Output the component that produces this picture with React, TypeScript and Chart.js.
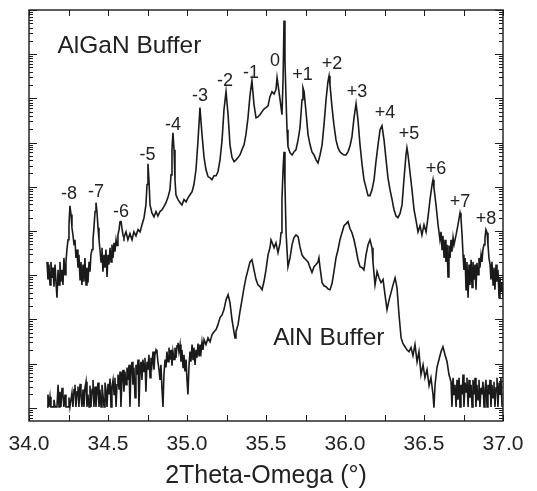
import React, { useEffect, useRef } from "react";
import { Chart, registerables } from "chart.js";

Chart.register(...registerables);

// 2Theta (deg) vs log10(intensity) — AlGaN buffer sample (upper curve)
const alganScan: [number, number][] = [
[34.114,4.30],[34.120,3.90],[34.126,4.24],[34.133,3.78],[34.139,4.30],[34.146,3.94],[34.152,4.17],[34.158,3.74],[34.165,4.24],[34.171,3.83],[34.177,3.49],[34.184,4.12],[34.190,3.78],[34.196,4.30],[34.202,3.85],[34.209,4.12],[34.215,3.78],[34.221,4.39],[34.228,4.01],[34.234,4.30],[34.240,4.58],[34.247,4.80],[34.253,5.14],[34.259,5.57],[34.266,5.37],[34.272,5.07],[34.278,4.91],[34.285,4.69],[34.291,4.80],[34.297,4.39],[34.304,4.58],[34.310,4.17],[34.316,4.46],[34.323,3.90],[34.329,4.30],[34.335,3.78],[34.342,4.24],[34.348,3.85],[34.354,4.39],[34.361,3.78],[34.367,4.17],[34.373,3.83],[34.380,4.30],[34.386,4.08],[34.392,4.46],[34.399,4.58],[34.405,4.80],[34.411,5.07],[34.418,5.44],[34.424,5.64],[34.430,5.44],[34.437,5.07],[34.443,4.80],[34.449,4.58],[34.456,4.30],[34.462,4.62],[34.468,4.08],[34.475,4.46],[34.481,4.17],[34.487,4.58],[34.494,3.96],[34.500,4.46],[34.506,4.24],[34.513,4.62],[34.519,4.30],[34.525,4.69],[34.532,4.39],[34.538,4.73],[34.544,4.53],[34.551,4.80],[34.557,4.67],[34.563,4.91],[34.570,5.03],[34.576,5.21],[34.582,5.23],[34.588,5.07],[34.595,4.91],[34.601,4.85],[34.614,4.98],[34.626,4.80],[34.639,4.94],[34.652,4.80],[34.664,4.98],[34.677,4.89],[34.690,5.03],[34.703,4.98],[34.715,5.14],[34.728,5.30],[34.740,5.59],[34.747,6.05],[34.753,6.52],[34.759,6.16],[34.766,5.59],[34.778,5.41],[34.791,5.32],[34.804,5.44],[34.816,5.34],[34.829,5.44],[34.842,5.48],[34.854,5.55],[34.867,5.64],[34.880,5.77],[34.892,5.93],[34.899,6.27],[34.905,6.84],[34.911,7.22],[34.918,6.84],[34.924,6.16],[34.930,5.82],[34.943,5.71],[34.956,5.64],[34.968,5.59],[34.981,5.71],[34.994,5.66],[35.006,5.75],[35.019,5.82],[35.032,5.89],[35.044,6.05],[35.057,6.39],[35.070,7.06],[35.082,7.79],[35.095,7.18],[35.108,6.66],[35.120,6.39],[35.133,6.23],[35.146,6.20],[35.158,6.16],[35.171,6.25],[35.184,6.25],[35.196,6.34],[35.209,6.61],[35.222,7.06],[35.234,7.74],[35.247,8.15],[35.260,7.63],[35.272,6.95],[35.285,6.66],[35.298,6.57],[35.310,6.61],[35.323,6.66],[35.335,6.72],[35.348,6.84],[35.361,6.95],[35.373,7.18],[35.386,7.56],[35.399,8.08],[35.411,8.40],[35.424,7.86],[35.437,7.56],[35.449,7.58],[35.462,7.63],[35.475,7.70],[35.487,7.76],[35.500,7.79],[35.513,7.83],[35.525,8.04],[35.538,8.15],[35.551,8.10],[35.563,8.20],[35.570,8.47],[35.576,8.31],[35.589,7.97],[35.601,7.63],[35.608,8.42],[35.614,9.76],[35.620,8.87],[35.627,7.97],[35.633,7.29],[35.639,6.91],[35.652,6.77],[35.665,6.72],[35.677,6.79],[35.690,6.84],[35.703,7.06],[35.715,7.33],[35.728,7.97],[35.734,8.24],[35.741,8.15],[35.753,7.70],[35.766,7.18],[35.779,6.95],[35.791,6.79],[35.804,6.72],[35.817,6.61],[35.829,6.54],[35.842,6.72],[35.855,6.95],[35.867,7.40],[35.880,7.97],[35.892,8.38],[35.899,8.51],[35.905,8.31],[35.918,7.79],[35.930,7.40],[35.943,7.06],[35.956,6.88],[35.968,6.79],[35.981,6.75],[35.994,6.72],[36.006,6.72],[36.019,6.79],[36.032,6.93],[36.044,7.13],[36.057,7.56],[36.070,7.88],[36.082,7.52],[36.095,6.95],[36.108,6.50],[36.120,6.16],[36.133,5.98],[36.146,5.80],[36.158,5.80],[36.171,5.93],[36.184,6.16],[36.196,6.57],[36.209,6.95],[36.222,7.29],[36.234,7.38],[36.247,7.06],[36.260,6.61],[36.272,6.20],[36.285,5.93],[36.298,5.71],[36.310,5.48],[36.323,5.34],[36.335,5.30],[36.348,5.39],[36.361,5.59],[36.373,6.16],[36.386,6.72],[36.392,6.88],[36.399,6.72],[36.411,6.34],[36.424,5.93],[36.437,5.48],[36.449,5.25],[36.462,4.98],[36.475,5.12],[36.487,4.91],[36.500,5.14],[36.513,4.98],[36.525,5.30],[36.538,5.71],[36.551,6.05],[36.557,6.16],[36.563,5.98],[36.576,5.59],[36.589,5.14],[36.601,4.80],[36.608,4.98],[36.614,4.58],[36.620,4.89],[36.627,4.39],[36.633,4.80],[36.639,4.30],[36.646,4.69],[36.652,3.96],[36.658,4.67],[36.665,4.39],[36.671,4.80],[36.677,4.53],[36.684,4.85],[36.690,4.69],[36.703,4.91],[36.715,5.14],[36.728,5.41],[36.734,5.30],[36.741,4.91],[36.747,4.46],[36.753,4.12],[36.760,4.39],[36.766,3.67],[36.772,4.30],[36.779,3.49],[36.785,4.24],[36.791,3.78],[36.798,4.35],[36.804,3.72],[36.810,4.30],[36.817,3.90],[36.823,4.24],[36.829,3.67],[36.835,4.28],[36.842,4.01],[36.848,4.39],[36.854,4.17],[36.861,4.46],[36.867,4.30],[36.873,4.58],[36.880,4.69],[36.886,4.85],[36.892,5.03],[36.899,4.96],[36.905,4.69],[36.911,4.39],[36.918,4.24],[36.924,3.90],[36.930,4.30],[36.937,3.78],[36.943,4.17],[36.949,3.67],[36.956,4.24],[36.962,3.85],[36.968,4.12],[36.975,3.49],[36.981,3.94],[36.987,3.62],[36.994,3.83],[37.000,3.49]
];

// 2Theta (deg) vs log10(intensity) — AlN buffer sample (lower curve)
const alnScan: [number, number][] = [
[34.114,1.02],[34.120,1.30],[34.126,1.02],[34.133,1.25],[34.139,1.02],[34.152,1.02],[34.158,1.18],[34.165,1.02],[34.177,1.02],[34.184,1.52],[34.190,1.02],[34.196,1.36],[34.202,1.02],[34.209,1.45],[34.215,1.30],[34.221,1.02],[34.228,1.30],[34.234,1.02],[34.247,1.02],[34.253,1.23],[34.259,1.02],[34.272,1.34],[34.278,1.02],[34.285,1.41],[34.291,1.52],[34.297,1.02],[34.304,1.36],[34.310,1.48],[34.316,1.02],[34.323,1.54],[34.329,1.30],[34.335,1.02],[34.342,1.41],[34.348,1.02],[34.354,1.45],[34.361,1.59],[34.367,1.02],[34.373,1.30],[34.380,1.02],[34.386,1.50],[34.392,1.02],[34.399,1.41],[34.405,1.63],[34.411,1.02],[34.418,1.48],[34.424,1.02],[34.430,1.36],[34.437,1.57],[34.443,1.02],[34.449,1.41],[34.456,1.02],[34.462,1.52],[34.468,1.30],[34.475,1.02],[34.481,1.57],[34.487,1.41],[34.494,1.02],[34.500,1.54],[34.506,1.30],[34.513,1.66],[34.519,1.02],[34.525,1.48],[34.532,1.63],[34.538,1.30],[34.544,1.68],[34.551,1.02],[34.557,1.52],[34.563,1.75],[34.570,1.41],[34.576,1.82],[34.582,1.02],[34.588,1.63],[34.595,1.86],[34.601,1.36],[34.607,1.82],[34.614,1.52],[34.620,1.91],[34.626,1.63],[34.633,1.97],[34.639,1.02],[34.645,1.82],[34.652,2.04],[34.658,1.52],[34.664,1.91],[34.671,1.23],[34.677,1.97],[34.683,1.75],[34.690,2.09],[34.696,1.02],[34.703,1.86],[34.709,2.04],[34.715,1.63],[34.721,2.09],[34.728,1.82],[34.734,2.13],[34.740,1.36],[34.747,2.04],[34.753,1.86],[34.759,2.20],[34.766,1.68],[34.772,2.13],[34.778,1.97],[34.785,2.27],[34.791,1.86],[34.797,2.20],[34.804,2.31],[34.810,2.27],[34.816,2.04],[34.823,1.86],[34.829,1.63],[34.835,1.97],[34.842,1.41],[34.848,1.02],[34.854,1.75],[34.861,2.09],[34.867,1.91],[34.873,2.27],[34.880,2.04],[34.886,2.36],[34.892,2.09],[34.899,2.31],[34.905,1.95],[34.911,2.27],[34.918,2.09],[34.924,2.36],[34.930,2.13],[34.937,2.40],[34.943,2.47],[34.949,2.27],[34.956,2.43],[34.962,2.04],[34.968,2.31],[34.975,1.91],[34.981,2.20],[34.987,1.82],[34.994,2.09],[35.000,1.63],[35.006,1.30],[35.013,1.97],[35.019,2.27],[35.025,2.04],[35.032,2.43],[35.038,2.09],[35.044,2.36],[35.051,1.97],[35.057,2.31],[35.063,2.13],[35.070,2.45],[35.076,2.18],[35.082,2.43],[35.089,2.27],[35.095,2.49],[35.101,2.31],[35.108,2.54],[35.120,2.43],[35.133,2.58],[35.146,2.49],[35.158,2.65],[35.171,2.72],[35.184,2.77],[35.196,2.88],[35.209,3.04],[35.222,3.10],[35.234,3.22],[35.247,3.44],[35.260,3.56],[35.272,3.38],[35.285,2.99],[35.298,2.70],[35.304,2.58],[35.310,2.72],[35.323,2.88],[35.335,3.17],[35.348,3.44],[35.361,3.72],[35.373,3.94],[35.386,4.12],[35.399,4.30],[35.411,4.35],[35.424,4.12],[35.437,3.90],[35.449,3.78],[35.462,3.74],[35.475,3.67],[35.487,3.85],[35.500,4.12],[35.513,4.46],[35.525,4.62],[35.532,4.80],[35.544,4.69],[35.551,4.62],[35.563,4.73],[35.576,4.51],[35.589,4.73],[35.595,4.96],[35.601,5.71],[35.608,6.39],[35.614,6.79],[35.620,6.05],[35.627,4.96],[35.639,4.19],[35.652,4.39],[35.665,4.69],[35.677,4.85],[35.690,4.91],[35.703,4.87],[35.715,4.64],[35.728,4.46],[35.741,4.39],[35.753,4.35],[35.766,4.30],[35.779,4.17],[35.791,4.06],[35.804,4.19],[35.817,4.24],[35.829,4.30],[35.835,4.39],[35.842,4.17],[35.855,3.83],[35.867,3.76],[35.880,3.74],[35.892,3.69],[35.905,3.67],[35.918,3.81],[35.930,4.08],[35.943,4.39],[35.956,4.58],[35.968,4.80],[35.981,4.96],[35.994,5.12],[36.006,5.16],[36.019,5.21],[36.032,5.05],[36.044,4.96],[36.057,4.80],[36.070,4.58],[36.082,4.35],[36.095,4.19],[36.108,4.17],[36.120,4.12],[36.133,4.46],[36.146,4.69],[36.158,4.80],[36.171,4.62],[36.177,4.30],[36.190,3.78],[36.203,4.08],[36.215,3.94],[36.228,3.83],[36.241,3.90],[36.253,3.56],[36.266,3.22],[36.279,3.44],[36.291,3.60],[36.304,3.78],[36.317,3.94],[36.329,3.72],[36.342,3.10],[36.355,2.58],[36.367,2.45],[36.380,2.38],[36.392,2.31],[36.405,2.27],[36.418,2.36],[36.430,2.18],[36.443,2.43],[36.456,2.04],[36.468,2.27],[36.481,1.75],[36.494,1.97],[36.506,1.68],[36.519,1.86],[36.532,1.50],[36.544,1.68],[36.557,1.30],[36.563,1.00],[36.570,1.52],[36.582,1.91],[36.595,2.09],[36.608,2.27],[36.620,2.38],[36.633,2.20],[36.646,2.04],[36.658,1.75],[36.671,1.59],[36.677,1.02],[36.684,1.68],[36.690,1.30],[36.696,1.52],[36.703,1.02],[36.709,1.63],[36.715,1.18],[36.722,1.68],[36.728,1.02],[36.734,1.52],[36.741,1.30],[36.747,1.75],[36.753,1.02],[36.760,1.57],[36.766,1.36],[36.772,1.68],[36.779,1.02],[36.785,1.63],[36.791,1.23],[36.798,1.52],[36.804,1.02],[36.810,1.63],[36.817,1.30],[36.823,1.68],[36.829,1.02],[36.835,1.52],[36.842,1.18],[36.848,1.63],[36.854,1.02],[36.861,1.45],[36.867,1.30],[36.873,1.59],[36.880,1.02],[36.886,1.41],[36.892,1.63],[36.899,1.02],[36.905,1.52],[36.911,1.30],[36.918,1.63],[36.924,1.02],[36.930,1.52],[36.937,1.23],[36.943,1.59],[36.949,1.02],[36.956,1.45],[36.962,1.68],[36.968,1.02],[36.975,1.57],[36.981,1.30],[36.987,1.68],[36.994,1.02]
];

// Satellite peak order labels, anchored in data coordinates (2Theta, log10 I)
const satelliteLabels = ["-8", "-7", "-6", "-5", "-4", "-3", "-2", "-1", "0", "+1", "+2", "+3", "+4", "+5", "+6", "+7", "+8"];
const satelliteLabelTheta = [34.253, 34.424, 34.582, 34.750, 34.911, 35.082, 35.241, 35.405, 35.557, 35.731, 35.918, 36.076, 36.253, 36.405, 36.576, 36.728, 36.892];
const satelliteLabelLogI = [5.72, 5.77, 5.32, 6.61, 7.29, 7.93, 8.27, 8.47, 8.74, 8.42, 8.67, 8.04, 7.56, 7.09, 6.29, 5.55, 5.16];

// Sample labels
const sampleLabels = ["AlGaN Buffer", "AlN Buffer"];
const sampleLabelTheta = [34.180, 35.546];
const sampleLabelLogI = [9.03, 2.43];

// Axis ranges / ticks
const thetaMin = 34.0;
const thetaMax = 37.0;
const thetaMajorStep = 0.5;
const thetaMinorStep = 0.25;
const logIMin = 0.7;
const logIMax = 10.0;
const xTitle = "2Theta-Omega (°)";

const FONT = '"Liberation Sans", Arial, Helvetica, sans-serif';
const INK = "#1a1a1a";

const decorPlugin = {
  id: "decor",
  afterDatasetsDraw(chart: any) {
    const { ctx, chartArea: a, scales } = chart;
    const xs = scales.x;
    const ys = scales.y;
    ctx.save();
    ctx.strokeStyle = INK;
    ctx.lineWidth = 1.4;
    ctx.strokeRect(a.left, a.top, a.right - a.left, a.bottom - a.top);
    ctx.lineWidth = 1;
    ctx.beginPath();
    const nx = Math.round((thetaMax - thetaMin) / thetaMinorStep);
    for (let i = 0; i <= nx; i++) {
      const v = thetaMin + i * thetaMinorStep;
      const px = Math.round(xs.getPixelForValue(v)) + 0.5;
      ctx.moveTo(px, a.bottom);
      ctx.lineTo(px, a.bottom - 6);
      ctx.moveTo(px, a.top);
      ctx.lineTo(px, a.top + 6);
    }
    for (let k = 0; k <= 10; k++) {
      for (let m = 1; m <= 9; m++) {
        const v = k + Math.log10(m);
        if (v < logIMin - 1e-6 || v > logIMax + 1e-6) continue;
        const len = m === 1 ? 8 : 4;
        const py = Math.round(ys.getPixelForValue(v)) + 0.5;
        ctx.moveTo(a.left, py);
        ctx.lineTo(a.left + len, py);
        ctx.moveTo(a.right, py);
        ctx.lineTo(a.right - len, py);
      }
    }
    ctx.stroke();

    ctx.fillStyle = "#222";
    ctx.textBaseline = "alphabetic";
    ctx.textAlign = "center";
    ctx.font = `18px ${FONT}`;
    satelliteLabels.forEach((t, i) => {
      ctx.fillText(t, xs.getPixelForValue(satelliteLabelTheta[i]), ys.getPixelForValue(satelliteLabelLogI[i]));
    });
    ctx.textAlign = "left";
    ctx.font = `24.5px ${FONT}`;
    sampleLabels.forEach((t, i) => {
      ctx.fillText(t, xs.getPixelForValue(sampleLabelTheta[i]), ys.getPixelForValue(sampleLabelLogI[i]));
    });
    ctx.restore();
  },
};

export default function App() {
  const ref = useRef<HTMLCanvasElement>(null);
  useEffect(() => {
    const toPts = (arr: [number, number][]) => arr.map(([x, y]) => ({ x, y }));
    const chart = new Chart(ref.current as HTMLCanvasElement, {
      type: "line",
      data: {
        datasets: [
          {
            label: "AlGaN Buffer",
            data: toPts(alganScan),
            borderColor: INK,
            borderWidth: 1.6,
            pointRadius: 0,
            tension: 0,
            fill: false,
          },
          {
            label: "AlN Buffer",
            data: toPts(alnScan),
            borderColor: INK,
            borderWidth: 1.6,
            pointRadius: 0,
            tension: 0,
            fill: false,
          },
        ],
      },
      options: {
        animation: false,
        responsive: false,
        events: [],
        layout: { padding: { left: 0, top: 10, right: 34, bottom: 0 } },
        plugins: {
          legend: { display: false },
          tooltip: { enabled: false },
          title: { display: false },
        },
        scales: {
          x: {
            type: "linear",
            min: thetaMin,
            max: thetaMax,
            grid: { display: false },
            border: { display: false },
            ticks: {
              stepSize: thetaMajorStep,
              autoSkip: false,
              maxRotation: 0,
              padding: 3,
              color: "#222",
              font: { family: FONT, size: 21 },
              callback: (v: any) => Number(v).toFixed(1),
            },
            title: {
              display: true,
              text: xTitle,
              color: "#222",
              font: { family: FONT, size: 25 },
              padding: { top: 0, bottom: 0 },
            },
            afterFit: (s: any) => {
              s.height = 70;
            },
          },
          y: {
            type: "linear",
            min: logIMin,
            max: logIMax,
            grid: { display: false },
            border: { display: false },
            ticks: { display: false },
            afterFit: (s: any) => {
              s.width = 29;
            },
          },
        },
      },
      plugins: [decorPlugin],
    } as any);
    return () => chart.destroy();
  }, []);
  return (
    <div style={{ position: "absolute", left: 0, top: 0, width: 537, height: 491, background: "#fff" }}>
      <canvas ref={ref} width={537} height={491} style={{ display: "block" }} />
    </div>
  );
}
